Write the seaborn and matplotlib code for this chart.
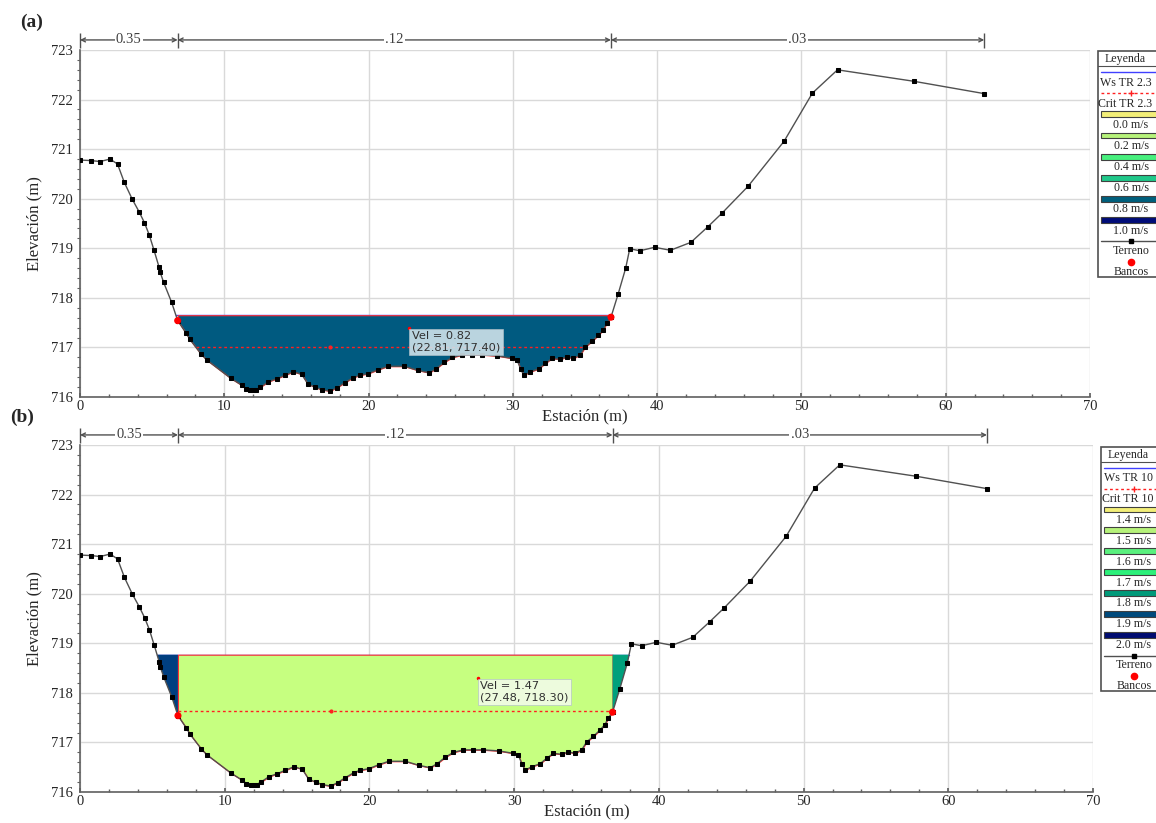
import numpy as np
import matplotlib.pyplot as plt
import seaborn as sns

# terrain of the cross section (station m, elevation m)
station = [0.0, 0.74, 1.39, 2.08, 2.6, 3.07, 3.62, 4.09, 4.46, 4.8, 5.13, 5.47, 5.54, 5.8,
           6.35, 6.77, 7.35, 7.62, 8.38, 8.77, 10.44, 11.2, 11.5, 11.8, 12.0, 12.2, 12.5,
           13.06, 13.63, 14.2, 14.78, 15.36, 15.8, 16.28, 16.74, 17.31, 17.81, 18.34, 18.92,
           19.38, 19.95, 20.64, 21.33, 22.48, 23.4, 24.2, 24.67, 25.24, 25.8, 26.5, 27.19,
           27.88, 28.92, 29.95, 30.3, 30.53, 30.76, 31.22, 31.79, 32.25, 32.71, 33.29, 33.74,
           34.2, 34.67, 35.01, 35.47, 35.93, 36.28, 36.5, 36.8, 37.29, 37.82, 38.1, 38.81,
           39.82, 40.92, 42.34, 43.5, 44.5, 46.3, 48.8, 50.76, 52.5, 57.77, 62.67]
elevation = [720.78, 720.77, 720.75, 720.8, 720.7, 720.33, 719.99, 719.74, 719.52, 719.27,
             718.96, 718.63, 718.53, 718.31, 717.91, 717.54, 717.29, 717.16, 716.87, 716.75,
             716.38, 716.24, 716.17, 716.15, 716.14, 716.15, 716.2, 716.31, 716.37, 716.44,
             716.51, 716.46, 716.26, 716.2, 716.15, 716.12, 716.19, 716.29, 716.39, 716.44,
             716.47, 716.55, 716.62, 716.62, 716.54, 716.49, 716.57, 716.7, 716.8, 716.85,
             716.85, 716.85, 716.83, 716.78, 716.74, 716.57, 716.44, 716.51, 716.57, 716.68,
             716.78, 716.76, 716.81, 716.78, 716.85, 717.01, 717.12, 717.25, 717.36, 717.49,
             717.61, 718.07, 718.6, 718.99, 718.95, 719.02, 718.96, 719.12, 719.43, 719.71,
             720.25, 721.16, 722.13, 722.6, 722.37, 722.12]
bank_sta = [6.77, 36.8]
bank_elev = [717.54, 717.61]
manning_n = ["0.35", ".12", ".03"]

# the two profiles
panel_tags = ["(a)", "(b)"]
ws_elev = [717.65, 718.77]
crit_elev = [717.00, 717.63]
vel_value = [0.82, 1.47]
vel_point = [(22.81, 717.40), (27.48, 718.30)]
ws_names = ["Ws TR 2.3", "Ws TR 10"]
crit_names = ["Crit TR 2.3", "Crit TR 10"]
vel_bins = [["0.0 m/s", "0.2 m/s", "0.4 m/s", "0.6 m/s", "0.8 m/s", "1.0 m/s"],
            ["1.4 m/s", "1.5 m/s", "1.6 m/s", "1.7 m/s", "1.8 m/s", "1.9 m/s", "2.0 m/s"]]
bin_colors = [["#f2ee78", "#b6f27a", "#48f07e", "#20c88a", "#005f7c", "#000c78"],
              ["#f2ee78", "#b6f27a", "#5af07e", "#2cf07a", "#009a7a", "#004a7c", "#000c70"]]
# fill colours: left overbank, main channel, right overbank (None = dry)
fill_colors = [[None, "#005a80", None], ["#003f80", "#c6ff80", "#00a07c"]]
box_colors = ["#cfe2ea", "#f2fbe8"]

sns.set_theme(style="white")
plt.rcParams["font.family"] = ["Liberation Serif", "DejaVu Serif"]

sta = np.array(station)
elev = np.array(elevation)


def wet_limits(level, lo, hi):
    m = (sta >= lo) & (sta <= hi)
    s, e = sta[m], elev[m]
    wet = np.where(e < level)[0]
    i, j = wet[0], wet[-1]
    x0 = s[i] if i == 0 else np.interp(level, [e[i], e[i - 1]], [s[i], s[i - 1]])
    x1 = s[j] if j == len(s) - 1 else np.interp(level, [e[j], e[j + 1]], [s[j], s[j + 1]])
    return x0, x1


W, H = 1156, 823
fig = plt.figure(figsize=(W / 100, H / 100), dpi=100)


def px_axes(l, t, r, b):
    return fig.add_axes([l / W, 1 - b / H, (r - l) / W, (b - t) / H])


axes = [px_axes(80, 50, 1090, 397), px_axes(80, 445, 1093, 792)]
legend_boxes = [(1097, 51, 277), (1100, 447, 691)]
tag_pos = [(20, 22), (10, 417)]

for k, ax in enumerate(axes):
    ws = ws_elev[k]
    crit = crit_elev[k]
    lb, rb = bank_sta

    # water surface
    x0, x1 = wet_limits(ws, sta[0], sta[-1])
    ax.plot([x0, x1], [ws, ws], color="#4040ff", lw=1, zorder=2)

    # flow areas by subsection
    parts = [(sta <= lb), (sta >= lb) & (sta <= rb), (sta >= rb)]
    for p, (mask, col) in enumerate(zip(parts, fill_colors[k])):
        if col is None:
            continue
        ax.fill_between(sta[mask], elev[mask], ws, where=elev[mask] < ws, interpolate=True,
                        facecolor=col, edgecolor="#ff3030" if p == 1 else "none",
                        lw=0.8, zorder=3)

    # critical depth
    c0, c1 = wet_limits(crit, lb, rb)
    ax.plot([c0, c1], [crit, crit], color="#ff2020", lw=1, ls=(0, (2, 2)), zorder=4)
    ax.plot(sta[np.argmin(elev)], crit, marker="o", ms=2, color="#ff2020", zorder=4)

    # terrain and banks
    sns.lineplot(x=station, y=elevation, sort=False, estimator=None, color="#505050", lw=1,
                 marker="s", markersize=3.0, markerfacecolor="black", markeredgecolor="black",
                 zorder=5, ax=ax)
    sns.scatterplot(x=bank_sta, y=bank_elev, color="red", s=26, edgecolor="none",
                    zorder=6, ax=ax)

    # velocity tooltip
    vx, vy = vel_point[k]
    ax.plot(vx, vy, marker="o", ms=1.5, color="red", zorder=7)
    ax.annotate(f"Vel = {vel_value[k]:.2f}\n({vx:.2f}, {vy:.2f})", xy=(vx, vy),
                xytext=(2, -2.5), textcoords="offset points", ha="left", va="top",
                fontsize=8.2, family="DejaVu Sans", color="#303030", linespacing=1.15,
                bbox=dict(boxstyle="square,pad=0.22", fc=box_colors[k], ec="#b0c0c8", lw=0.5,
                          alpha=0.9), zorder=8)

    # axes styling
    ax.set_xlim(0, 70)
    ax.set_ylim(716, 723)
    ax.set_xticks(range(0, 71, 10))
    ax.set_yticks(range(716, 724))
    ax.set_xticks(np.arange(0, 70, 2), minor=True)
    ax.set_yticks(np.arange(716, 723, 0.2), minor=True)
    ax.grid(True, which="major", color="#d9d9d9", lw=1)
    ax.set_axisbelow(True)
    for side in ["top", "right"]:
        ax.spines[side].set_visible(False)
    for side in ["left", "bottom"]:
        ax.spines[side].set_color("#606060")
        ax.spines[side].set_linewidth(1.2)
    ax.tick_params(axis="y", which="major", direction="out", length=4, width=1,
                   color="#606060", labelsize=10.5, pad=1)
    ax.tick_params(axis="y", which="minor", direction="out", length=2, width=0.8,
                   color="#606060", left=True)
    ax.tick_params(axis="x", which="major", direction="in", length=3, color="#606060",
                   labelsize=10.5, pad=2, bottom=True)
    ax.tick_params(axis="x", which="minor", direction="in", length=2, color="#606060",
                   bottom=True)
    ax.set_xlabel("Estación (m)", fontsize=12, labelpad=-3)
    ax.set_ylabel("Elevación (m)", fontsize=12, labelpad=6)

    # Manning n values above the plot
    breaks = [sta[0], lb, rb, sta[-1]]
    tr = ax.get_xaxis_transform()
    ax.vlines(breaks, 1.006, 1.05, color="#505050", lw=1, transform=tr, clip_on=False)
    for n, a, b in zip(manning_n, breaks[:-1], breaks[1:]):
        ax.annotate("", xy=(a, 1.029), xytext=(b, 1.029), xycoords=tr, textcoords=tr,
                    arrowprops=dict(arrowstyle="<->", color="#505050", lw=1,
                                    mutation_scale=7, shrinkA=0, shrinkB=0))
        ax.text((a + b) / 2, 1.029, n, transform=tr, ha="center", va="center", fontsize=10.5,
                color="#404040", bbox=dict(boxstyle="square,pad=0.1", fc="white", ec="none"))

    fig.text(tag_pos[k][0] / W, 1 - tag_pos[k][1] / H, panel_tags[k], fontsize=14,
             fontweight="bold", ha="left", va="center")

    # legend panel (cut at the figure edge, as in the original)
    bl, bt, bb = legend_boxes[k]
    lax = px_axes(bl, bt, bl + 90, bb)
    lax.set_xlim(0, 90)
    n_rows = 1.4 + 4 + 2 * len(vel_bins[k]) + 4
    lax.set_ylim(n_rows, 0)
    lax.axis("off")
    lax.add_patch(plt.Rectangle((0.5, 0.02), 100, n_rows - 0.04, fc="white", ec="#505050",
                                lw=1.2, clip_on=False))
    cx = 31
    fs = 8.6
    lax.text(cx - 3, 0.75, "Leyenda", ha="center", va="center", fontsize=fs)
    lax.plot([0.5, 100], [1.45, 1.45], color="#505050", lw=0.8)
    r = 2.0
    lax.plot([4, 100], [r, r], color="#4040ff", lw=1)
    lax.text(cx - 2, r + 1, ws_names[k], ha="center", va="center", fontsize=fs)
    r += 2
    lax.plot([4, 100], [r, r], color="#ff2020", lw=1, ls=(0, (2, 2)))
    lax.plot(cx + 3, r, marker="+", ms=4, color="#ff2020")
    lax.text(cx - 3, r + 1, crit_names[k], ha="center", va="center", fontsize=fs)
    r += 2
    for lab, col in zip(vel_bins[k], bin_colors[k]):
        lax.add_patch(plt.Rectangle((4, r - 0.28), 100, 0.56, fc=col, ec="#404040", lw=0.8))
        lax.text(cx + 3, r + 1, lab, ha="center", va="center", fontsize=fs)
        r += 2
    lax.plot([4, 100], [r, r], color="#505050", lw=1)
    lax.plot(cx + 3, r, marker="s", ms=3, color="black")
    lax.text(cx + 3, r + 0.95, "Terreno", ha="center", va="center", fontsize=fs)
    r += 2
    lax.plot(cx + 3, r, marker="o", ms=4.5, color="red")
    lax.text(cx + 3, r + 0.95, "Bancos", ha="center", va="center", fontsize=fs)

plt.savefig("out.png", dpi=100)
plt.close()
